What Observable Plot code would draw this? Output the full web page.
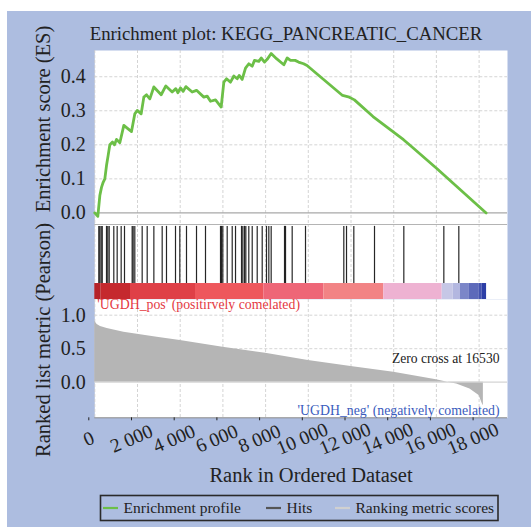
<!DOCTYPE html>
<html><head><meta charset="utf-8">
<script src="https://cdn.jsdelivr.net/npm/d3@7"></script>
<script src="https://cdn.jsdelivr.net/npm/@observablehq/plot@0.6"></script>
<style>
body{margin:0;background:#fff;}
#root{position:relative;width:531px;height:527px;overflow:hidden;background:#fff;font-family:"Liberation Serif","DejaVu Serif",serif;}
#bg{position:absolute;left:7px;top:11px;right:0;bottom:0;background:#adbde0;}
.panel{position:absolute;left:0;}
#overlay{position:absolute;left:0;top:0;pointer-events:none;}
#overlay text, .panel text{font-family:"Liberation Serif","DejaVu Serif",serif;}
</style></head><body>
<div id="root"><div id="bg"></div>
<div id="p1" class="panel" style="top:0px"></div>
<div id="p2" class="panel" style="top:224px"></div>
<div id="p3" class="panel" style="top:299px"></div>
<svg id="overlay" width="531" height="527"></svg>
</div>
<script>
// ---------------- data ----------------
const title = "Enrichment plot: KEGG_PANCREATIC_CANCER";
const esRank = [0, 141, 236, 314, 392, 470, 548, 626, 704, 829, 923, 1016, 1172, 1360, 1516, 1719, 1875, 1985, 2172, 2297, 2422, 2578, 2765, 3109, 3327, 3624, 3796, 3889, 4014, 4139, 4264, 4561, 4764, 5107, 5263, 5419, 5654, 5919, 6044, 6169, 6356, 6512, 6669, 6762, 6903, 7059, 7215, 7371, 7480, 7683, 7793, 7949, 8074, 8261, 8511, 8854, 9011, 9167, 9383, 9542, 9781, 9940, 11604, 11921, 12160, 13031, 14460, 14778, 16043, 18330];
const esValue = [0, -0.01, 0.051, 0.075, 0.09, 0.10, 0.139, 0.169, 0.2, 0.208, 0.2, 0.216, 0.206, 0.257, 0.249, 0.239, 0.291, 0.301, 0.291, 0.34, 0.347, 0.335, 0.37, 0.347, 0.373, 0.355, 0.365, 0.353, 0.367, 0.357, 0.371, 0.355, 0.36, 0.34, 0.343, 0.328, 0.332, 0.311, 0.384, 0.394, 0.384, 0.402, 0.394, 0.404, 0.392, 0.425, 0.438, 0.431, 0.448, 0.445, 0.455, 0.443, 0.451, 0.468, 0.453, 0.435, 0.455, 0.448, 0.448, 0.443, 0.438, 0.433, 0.345, 0.34, 0.332, 0.283, 0.215, 0.198, 0.129, 0];
const hitRank = [187, 234, 297, 349, 548, 609, 674, 890, 1048, 1235, 1391, 1750, 1797, 1874, 2219, 2454, 2766, 3156, 3358, 3780, 3982, 4295, 4764, 5185, 5888, 5935, 5996, 6201, 6436, 6591, 6872, 6934, 7012, 7074, 7213, 7373, 7607, 7841, 8042, 8151, 8261, 8886, 8933, 9245, 9869, 11663, 11790, 12132, 13101, 14474, 16348, 17050];
const metricRank = [0, 111, 267, 580, 1360, 1985, 2921, 4000, 6000, 8000, 10000, 12000, 14000, 16000, 16530, 16950, 17570, 18000, 18150, 18200];
const metricValue = [0.91, 0.86, 0.83, 0.80, 0.746, 0.716, 0.672, 0.622, 0.522, 0.433, 0.324, 0.234, 0.149, 0.035, 0, -0.025, -0.1, -0.2, -0.32, -0.35];
const bandStart = [0, 300, 1672, 4717, 7916, 10727, 13537, 16272, 16787, 17129, 17518, 17987, 18146];
const bandColor = ["#b52228", "#c5292e", "#df4047", "#ee575c", "#ee6677", "#f28385", "#eeb2d2", "#c6c7e6", "#b3b7e0", "#7b86c8", "#5d6aba", "#4554b0", "#2c3ea6"];
const bandEndRank = 18350;
const xTicks = [0, 2000, 4000, 6000, 8000, 10000, 12000, 14000, 16000, 18000];
const esTicks = [0, 0.1, 0.2, 0.3, 0.4];
const metricTicks = [0, 0.5, 1.0];
const zeroCross = 16530;
const posLabel = "'UGDH_pos' (positirvely comelated)";
const negLabel = "'UGDH_neg' (negatively comelated)";
const xLabel = "Rank in Ordered Dataset";
const esLabel = "Enrichment score (ES)";
const metricLabel = "Ranked list metric (Pearson)";
const legendLabels = ["Enrichment profile", "Hits", "Ranking metric scores"];
const legendColors = ["#6cbf47", "#555555", "#d0d0d0"];

// ---------------- layout ----------------
const FONT = '"Liberation Serif", "DejaVu Serif", serif';
const W = 531, ML = 94.3, MR = 24;
const X_DOMAIN = [0, 19330];
const GREEN = "#6cbf47";
const gridStyle = {stroke: "#c9c9c9", strokeOpacity: 1, strokeDasharray: "3,2", strokeWidth: 0.8};
const fmtX = d3.formatLocale({thousands: " ", grouping: [3], decimal: ".", currency: ["", ""]}).format(",");
const fmtY = d3.format(".1f");
const baseStyle = {background: "transparent", overflow: "visible", fontFamily: FONT, color: "#222"};

const es = esRank.map((x, i) => ({x, y: esValue[i]}));
const metric = metricRank.map((x, i) => ({x, y: metricValue[i]}));
const bands = bandStart.map((x1, i) => ({x1, x2: i + 1 < bandStart.length ? bandStart[i + 1] : bandEndRank, c: bandColor[i]}));

// Panel 1: enrichment score
const p1 = Plot.plot({
  width: W, height: 230, marginLeft: ML, marginRight: MR, marginTop: 50, marginBottom: 6,
  style: baseStyle,
  x: {domain: X_DOMAIN, axis: null},
  y: {domain: [-0.034, 0.477], axis: null},
  marks: [
    Plot.frame({fill: "white", stroke: null}),
    Plot.gridX(xTicks, gridStyle),
    Plot.gridY(esTicks.filter(d => d !== 0), gridStyle),
    Plot.ruleY([0], {stroke: "#a8a8a8", strokeWidth: 1.2}),
    Plot.axisY(esTicks, {tickSize: 0, tickPadding: 9, fontSize: 20, tickFormat: fmtY, label: null}),
    Plot.line(es, {x: "x", y: "y", stroke: GREEN, strokeWidth: 2.8})
  ]
});
document.getElementById("p1").append(p1);

// Panel 2: hits + ranking colour band
const p2 = Plot.plot({
  width: W, height: 75, marginLeft: ML, marginRight: MR, marginTop: 0, marginBottom: 0,
  style: baseStyle,
  x: {domain: X_DOMAIN, axis: null},
  y: {domain: [0, 1], axis: null},
  color: {type: "identity"},
  marks: [
    Plot.frame({fill: "white", stroke: null}),
    Plot.gridX(xTicks, gridStyle),
    Plot.ruleX(hitRank, {y1: 0.213, y2: 0.975, stroke: "#000", strokeWidth: 1.2, strokeOpacity: 0.85}),
    Plot.rect(bands, {x1: "x1", x2: "x2", y1: 0, y2: 0.213, fill: "c"}),
    Plot.ruleY([1], {stroke: "#b4b4b4", strokeWidth: 1})
  ]
});
document.getElementById("p2").append(p2);

// Panel 3: ranked list metric
const p3 = Plot.plot({
  width: W, height: 180, marginLeft: ML, marginRight: MR, marginTop: 0, marginBottom: 180 - 118.3,
  style: baseStyle,
  x: {domain: X_DOMAIN, axis: null},
  y: {domain: [-0.531, 1.234], axis: null},
  marks: [
    Plot.frame({fill: "white", stroke: null}),
    Plot.gridX(xTicks, gridStyle),
    Plot.gridY(metricTicks.filter(d => d !== 0), gridStyle),
    Plot.areaY(metric, {x: "x", y: "y", fill: "#b5b5b5"}),
    Plot.ruleY([0], {stroke: "#d4d4d4", strokeWidth: 1.2}),
    Plot.ruleY([-0.531], {stroke: "#8a8a8a", strokeWidth: 1}),
    Plot.axisY(metricTicks, {tickSize: 0, tickPadding: 9, fontSize: 20, tickFormat: fmtY, label: null}),
    Plot.axisX(xTicks, {tickSize: 3, tickPadding: 18, tickRotate: -23, textAnchor: "middle", fontSize: 19.5, tickFormat: fmtX, label: null, dx: -6}),
    Plot.text([posLabel], {frameAnchor: "top-left", dx: 2.5, dy: 0, fill: "#e4393f", fontSize: 13.8}),
    Plot.text([`Zero cross at ${zeroCross}`], {frameAnchor: "right", textAnchor: "end", dx: -8, dy: 0, fill: "#222", fontSize: 13.6}),
    Plot.text([negLabel], {frameAnchor: "bottom-right", textAnchor: "end", dx: -8, dy: -3, fill: "#3a5bbd", fontSize: 13.8})
  ]
});
document.getElementById("p3").append(p3);

// Overlay: title, axis labels, legend
const ov = d3.select("#overlay");
ov.append("text").attr("x", 286).attr("y", 40).attr("text-anchor", "middle")
  .attr("font-size", 18.8).attr("fill", "#222").text(title);
ov.append("text").attr("transform", "translate(50,119) rotate(-90)").attr("text-anchor", "middle")
  .attr("font-size", 20.5).attr("fill", "#222").text(esLabel);
ov.append("text").attr("transform", "translate(50,340) rotate(-90)").attr("text-anchor", "middle")
  .attr("font-size", 20.5).attr("fill", "#222").text(metricLabel);
ov.append("text").attr("x", 311).attr("y", 481.5).attr("text-anchor", "middle")
  .attr("font-size", 20.5).attr("fill", "#222").text(xLabel);

ov.append("rect").attr("x", 100.5).attr("y", 495.5).attr("width", 397.5).attr("height", 25)
  .attr("fill", "none").attr("stroke", "#2a2a2a").attr("stroke-width", 1.6);
const legendX = [103, 266, 335];
legendLabels.forEach((lab, i) => {
  ov.append("line").attr("x1", legendX[i]).attr("x2", legendX[i] + 15).attr("y1", 508).attr("y2", 508)
    .attr("stroke", legendColors[i]).attr("stroke-width", 2.2);
  ov.append("text").attr("x", legendX[i] + 20.5).attr("y", 513.2).attr("font-size", 15.5)
    .attr("fill", "#222").text(lab);
});
</script>
</body></html>
